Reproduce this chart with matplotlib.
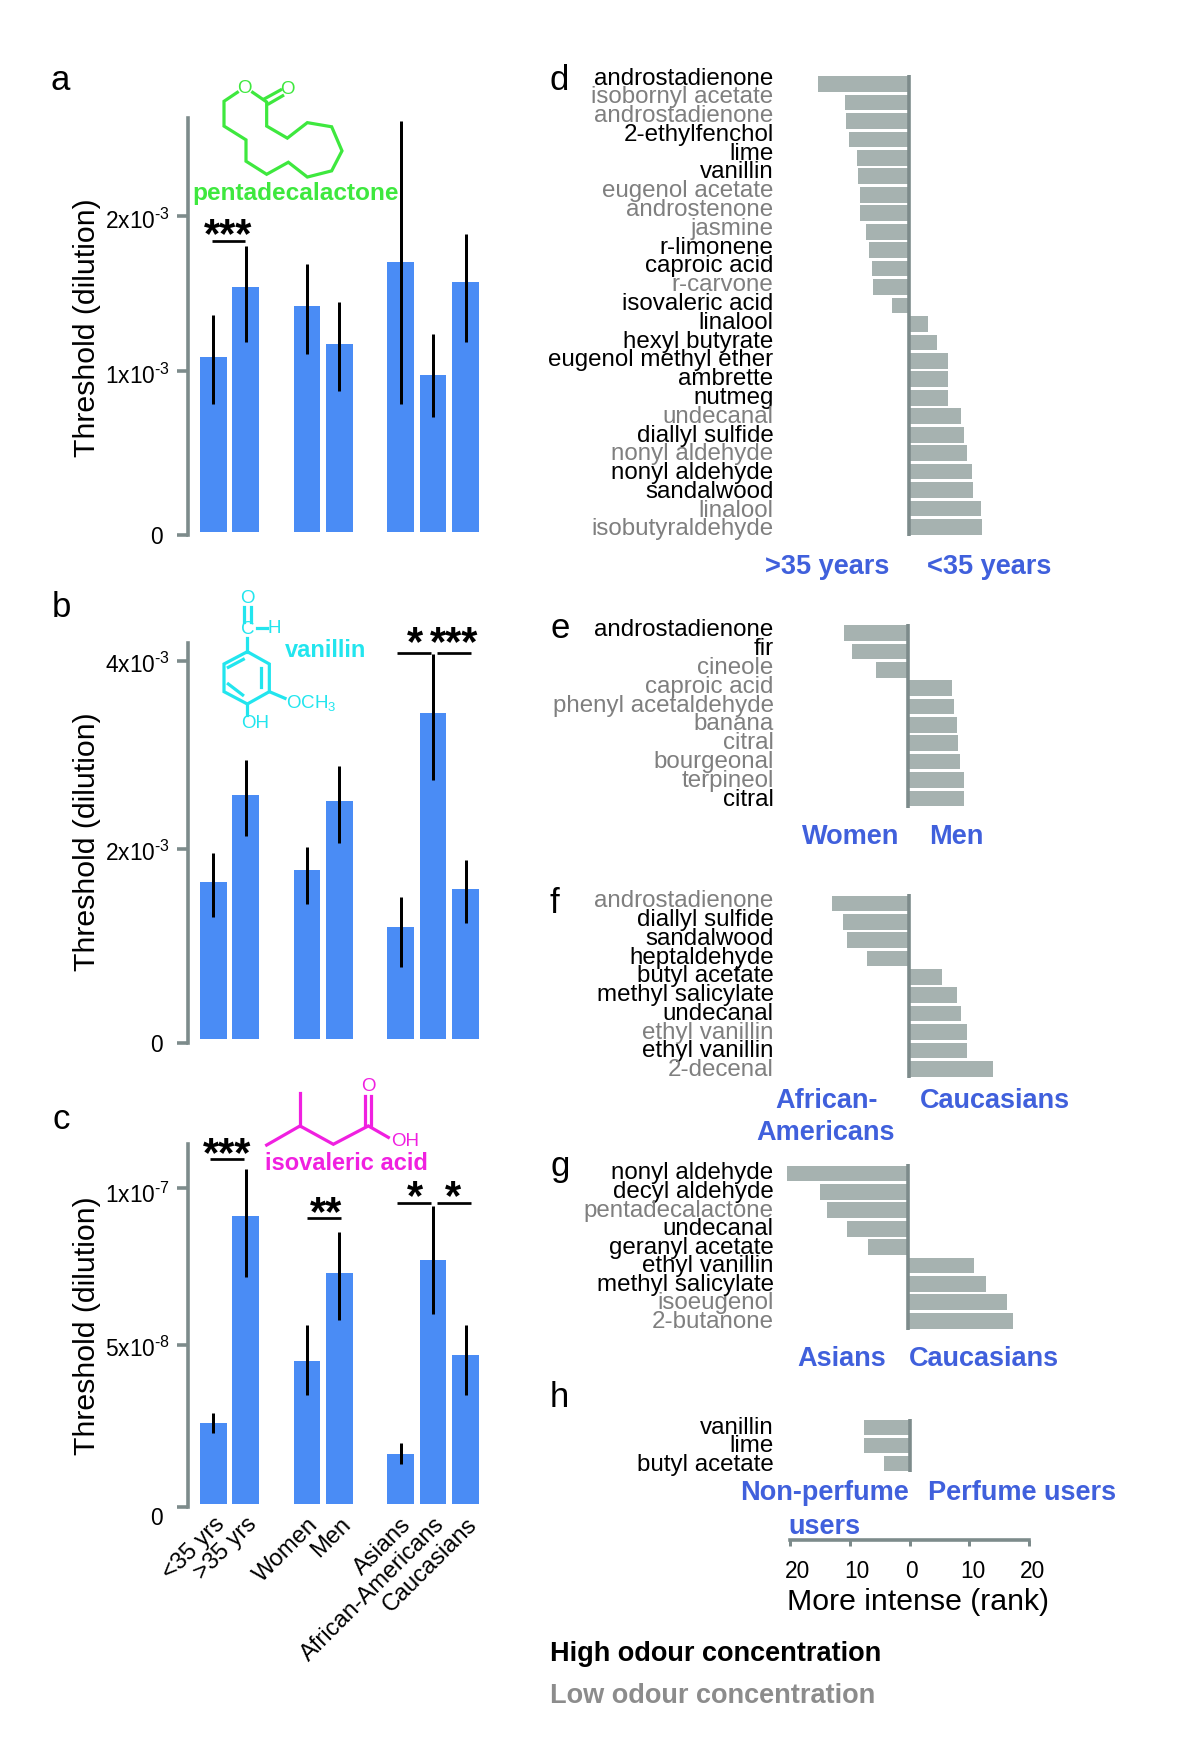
import matplotlib
matplotlib.use('Agg')
import matplotlib.pyplot as plt
from matplotlib.transforms import ScaledTranslation

plt.rcParams['font.family'] = ['Liberation Sans', 'DejaVu Sans']
plt.rcParams['mathtext.fontset'] = 'custom'
plt.rcParams['mathtext.rm'] = 'Liberation Sans'
plt.rcParams['mathtext.default'] = 'regular'

# ---- data ----
bar_labels = ['<35 yrs', '>35 yrs', 'Women', 'Men', 'Asians', 'African-Americans', 'Caucasians']

# thresholds, a and b in 1e-3 units, c in 1e-8 units
a_vals = [1.107, 1.547, 1.425, 1.187, 1.706, 0.991, 1.582]
a_hi = [1.373, 1.808, 1.691, 1.451, 2.597, 1.253, 1.885]
a_lo = [0.810, 1.203, 1.124, 0.889, 0.810, 0.728, 1.203]
b_vals = [1.654, 2.578, 1.785, 2.511, 1.185, 3.443, 1.584]
b_hi = [1.961, 2.949, 2.025, 2.885, 1.496, 4.071, 1.891]
b_lo = [1.284, 2.145, 1.422, 2.074, 0.755, 2.737, 1.220]
c_vals = [2.56, 9.13, 4.54, 7.33, 1.57, 7.73, 4.73]
c_hi = [2.88, 10.6, 5.67, 8.62, 1.91, 9.43, 5.67]
c_lo = [2.25, 7.2, 3.45, 5.81, 1.26, 6.01, 3.45]

d_names = ['androstadienone', 'isobornyl acetate', 'androstadienone', '2-ethylfenchol', 'lime', 'vanillin',
           'eugenol acetate', 'androstenone', 'jasmine', 'r-limonene', 'caproic acid', 'r-carvone',
           'isovaleric acid', 'linalool', 'hexyl butyrate', 'eugenol methyl ether', 'ambrette', 'nutmeg',
           'undecanal', 'diallyl sulfide', 'nonyl aldehyde', 'nonyl aldehyde', 'sandalwood', 'linalool',
           'isobutyraldehyde']
d_vals = [-15.1, -10.6, -10.4, -10.0, -8.6, -8.4, -8.1, -8.1, -7.1, -6.6, -6.1, -5.9, -2.8,
          3.3, 4.7, 6.6, 6.6, 6.6, 8.75, 9.3, 9.8, 10.6, 10.8, 12.1, 12.3]
d_high = [1, 0, 0, 1, 1, 1, 0, 0, 0, 1, 1, 0, 1, 1, 1, 1, 1, 1, 0, 1, 0, 1, 1, 0, 0]

e_names = ['androstadienone', 'fir', 'cineole', 'caproic acid', 'phenyl acetaldehyde', 'banana', 'citral',
           'bourgeonal', 'terpineol', 'citral']
e_vals = [-10.7, -9.3, -5.3, 7.4, 7.7, 8.2, 8.4, 8.7, 9.4, 9.4]
e_high = [1, 1, 0, 0, 0, 0, 0, 0, 0, 1]

f_names = ['androstadienone', 'diallyl sulfide', 'sandalwood', 'heptaldehyde', 'butyl acetate',
           'methyl salicylate', 'undecanal', 'ethyl vanillin', 'ethyl vanillin', '2-decenal']
f_vals = [-12.8, -11.05, -10.3, -7.05, 5.5, 8.0, 8.7, 9.7, 9.7, 14.0]
f_high = [0, 1, 1, 1, 1, 1, 1, 0, 1, 0]

g_names = ['nonyl aldehyde', 'decyl aldehyde', 'pentadecalactone', 'undecanal', 'geranyl acetate',
           'ethyl vanillin', 'methyl salicylate', 'isoeugenol', '2-butanone']
g_vals = [-20.3, -14.7, -13.6, -10.2, -6.65, 11.1, 13.1, 16.5, 17.5]
g_high = [1, 1, 0, 1, 1, 1, 1, 0, 0]

h_names = ['vanillin', 'lime', 'butyl acetate']
h_vals = [-7.7, -7.7, -4.3]
h_high = [1, 1, 1]

BLUE = '#4A8CF5'
GREY_BAR = '#A6B2B0'
AXIS = '#7D8B8B'
LOW = '#7f7f7f'
LABEL_BLUE = '#4060DC'
GREEN = '#3EE83E'
CYAN = '#22E5EE'
MAGENTA = '#F020E0'

W, H = 1200, 1753
px = 0.72  # one pixel in points at dpi 100

fig = plt.figure(figsize=(W / 100, H / 100), dpi=100)

# overlay in picture pixels, for text and the molecule drawings
over = fig.add_axes([0, 0, 1, 1], zorder=5)
over.set_xlim(0, W)
over.set_ylim(H, 0)
over.axis('off')


def add_ax(left, top, right, bottom):
    return fig.add_axes([left / W, 1 - bottom / H, (right - left) / W, (bottom - top) / H])


# x positions of the seven bars, three groups
bar_x = []
pos = 0
for i, n in enumerate([2, 2, 3]):
    for j in range(n):
        bar_x.append(pos)
        pos += 1
    pos += 0.88


def threshold_panel(top, zero_y, base_y, unit, vals, hi, lo, ticks, ticklabels, label_y, sig, star_off, tick_drop):
    # zero_y is where the 0 tick sits, base_y where the bars stand
    ax = add_ax(188, top, 480, zero_y)
    step = 32.5
    ax.set_xlim((188 - 213.3) / step, (480 - 213.3) / step)
    ax.set_ylim((base_y - zero_y) / unit, (base_y - top) / unit)
    ax.bar(bar_x, vals, width=0.82, color=BLUE, linewidth=0)
    ax.vlines(bar_x, lo, hi, color='k', lw=3 * px)
    ax.set_yticks(ticks)
    ax.set_yticklabels(ticklabels, fontsize=16.4)
    ax.tick_params(axis='y', length=11 * px, width=3.6 * px, color=AXIS, pad=7 * px)
    # tick labels sit a little under their ticks in the original
    for lab, drop in zip(ax.get_yticklabels(), tick_drop):
        lab.set_transform(lab.get_transform() + ScaledTranslation(0, -drop / 100, fig.dpi_scale_trans))
    ax.set_xticks([])
    for s in ['top', 'right', 'bottom']:
        ax.spines[s].set_visible(False)
    ax.spines['left'].set_color(AXIS)
    ax.spines['left'].set_linewidth(3.6 * px)
    ax.set_ylabel('Threshold (dilution)', fontsize=21.8, va='center')
    ax.yaxis.set_label_coords(87, label_y, transform=over.transData)
    for x0, x1, y, stars, sx in sig:
        ax.plot([x0, x1], [y, y], color='k', lw=2.7 * px, solid_capstyle='butt', clip_on=False)
        ax.annotate(stars, (sx, y), xytext=(0, star_off), textcoords='offset points', ha='center', va='bottom',
                    fontsize=30, fontweight='bold', annotation_clip=False)
    return ax


threshold_panel(118.5, 534.8, 531.7, 158.06, a_vals, a_hi, a_lo, [-0.0196, 1.015, 2.0],
                ['0 ', '1x10$^{\\text{-3}}$', '2x10$^{\\text{-3}}$'], 327.5,
                [(-0.05, 0.98, 1.839, '***', 0.47)], -11, [0, 3, 3])
threshold_panel(642.7, 1042.7, 1038.7, 94.5, b_vals, b_hi, b_lo, [-0.042, 2.01, 4.0],
                ['0 ', '2x10$^{\\text{-3}}$', '4x10$^{\\text{-3}}$'], 842,
                [(5.66, 6.69, 4.085, '*', 6.2), (6.89, 7.93, 4.085, '***', 7.4)], -8, [0, 2, 2])
ax_c = threshold_panel(1143.9, 1506.7, 1503.7, 31.53, c_vals, c_hi, c_lo, [-0.097, 5.036, 10.0],
                       ['0 ', '5x10$^{\\text{-8}}$', '1x10$^{\\text{-7}}$'], 1325.7,
                       [(-0.1, 0.95, 10.92, '***', 0.44), (2.89, 3.93, 9.05, '**', 3.46),
                        (5.66, 6.69, 9.54, '*', 6.2), (6.89, 7.93, 9.54, '*', 7.38)], -11, [9, 2, 4])
ax_c.set_xticks(bar_x)
ax_c.set_xticklabels(bar_labels, fontsize=17, rotation=45, ha='right', rotation_mode='anchor')
ax_c.tick_params(axis='x', length=0, pad=5)


def rank_panel(top, bottom, zero_x, names, vals, high, shift0, shift1):
    # shift0, shift1: how far the first and last name sit off their bars, in pixels
    unit = 5.98
    ax = add_ax(775, top, 1075, bottom)
    ax.set_xlim((775 - zero_x) / unit, (1075 - zero_x) / unit)
    ax.set_ylim(len(vals) - 0.5, -0.5)
    rows = list(range(len(vals)))
    ax.barh(rows, vals, height=0.85, color=GREY_BAR, linewidth=0)
    ax.axvline(0, color=AXIS, lw=3.6 * px, zorder=3)
    row_h = (bottom - top) / len(vals)
    ax.set_yticks([r + (shift0 + (shift1 - shift0) * r / (len(vals) - 1)) / row_h for r in rows])
    ax.set_yticklabels(names, fontsize=17.4)
    for lab, h in zip(ax.get_yticklabels(), high):
        lab.set_color('k' if h else LOW)
    ax.tick_params(axis='y', length=0, pad=1)
    ax.set_xticks([])
    for s in ax.spines.values():
        s.set_visible(False)
    return ax


rank_panel(74.8, 536.2, 908.5, d_names, d_vals, d_high, -8, 0)
rank_panel(623.9, 807.5, 907.9, e_names, e_vals, e_high, -5.5, -1)
rank_panel(894.3, 1077.9, 908.9, f_names, f_vals, f_high, -4.5, -1)
rank_panel(1164.3, 1329.9, 908.1, g_names, g_vals, g_high, -2.5, -1.5)
ax_h = rank_panel(1418.7, 1472.2, 909.6, h_names, h_vals, h_high, -2, -1)

# rank scale hangs under panel h
ax_h.spines['bottom'].set_visible(True)
ax_h.spines['bottom'].set_position(('outward', 67.3 * px))
ax_h.spines['bottom'].set_bounds(-20, 20)
ax_h.spines['bottom'].set_color(AXIS)
ax_h.spines['bottom'].set_linewidth(3.6 * px)
ax_h.set_xticks([-20, -10, 0, 10, 20])
ax_h.set_xticklabels(['20', '10', '0', '10', '20'], fontsize=16.4)
ax_h.tick_params(axis='x', length=6 * px, width=3 * px, color=AXIS, pad=15 * px)
for lab, off in zip(ax_h.get_xticklabels(), [7, 7, 2, 3, 3]):
    lab.set_transform(lab.get_transform() + ScaledTranslation(off / 100, 0, fig.dpi_scale_trans))
ax_h.set_xlabel('More intense (rank)', fontsize=21.8, va='center')
ax_h.xaxis.set_label_coords(918, 1602, transform=over.transData)

# panel letters
for letter, x, y in [('a', 51, 90), ('b', 52, 617), ('c', 52, 1129), ('d', 549.6, 89.6),
                     ('e', 550, 637.5), ('f', 550, 912.5), ('g', 550, 1176), ('h', 550, 1407)]:
    over.text(x, y, letter, fontsize=25, ha='left', va='baseline')

# blue group labels
for txt, x, y in [('>35 years', 827, 567.5), ('<35 years', 989.5, 567.5), ('Women', 850.2, 837),
                  ('Men', 956.4, 837), ('African-', 827, 1101), ('Americans', 825.7, 1133.5),
                  ('Caucasians', 995, 1101), ('Asians', 841.5, 1359.4), ('Caucasians', 983.5, 1359.4),
                  ('Non-perfume', 824, 1493.4), ('users', 824, 1526.9), ('Perfume users', 1022.3, 1493.4)]:
    over.text(x, y, txt, fontsize=19.5, fontweight='bold', color=LABEL_BLUE, ha='center', va='center')

# legend
over.text(550.3, 1654.2, 'High odour concentration', fontsize=19.5, fontweight='bold', color='k', va='center')
over.text(550.3, 1695.6, 'Low odour concentration', fontsize=19.5, fontweight='bold', color='#8c8c8c', va='center')


def line(points, color, ox, oy, sy, lw=3.2):
    over.plot([ox + p[0] / 3.0 for p in points], [oy + p[1] / sy for p in points],
              color=color, lw=lw * px, solid_joinstyle='miter')


def atom(txt, x, y, color, ox, oy, sy, ha='center', size=13.5):
    over.text(ox + x / 3.0, oy + y / sy, txt, color=color, fontsize=size, ha=ha, va='center')


# pentadecalactone
ox, oy, sy = 40, 40, 2.904
line([(592, 152), (552, 178), (552, 250), (618, 290), (618, 352), (680, 390), (745, 355), (802, 398),
      (875, 380), (906, 322), (875, 252), (802, 240), (742, 285), (680, 250), (680, 180), (638, 152)], GREEN, ox, oy, sy)
line([(675, 170), (722, 145)], GREEN, ox, oy, sy)
line([(687, 185), (728, 162)], GREEN, ox, oy, sy)
atom('O', 612, 140, GREEN, ox, oy, sy)
atom('O', 742, 143, GREEN, ox, oy, sy)
over.text(295.7, 193, 'pentadecalactone', color=GREEN, fontsize=17.6, fontweight='bold', ha='center', va='center')

# vanillin
ox, oy, sy = 40, 580, 3.0
line([(622, 215), (688, 252), (688, 335), (622, 372), (552, 335), (552, 252), (622, 215)], CYAN, ox, oy, sy)
line([(565, 262), (610, 238)], CYAN, ox, oy, sy)
line([(662, 265), (662, 320)], CYAN, ox, oy, sy)
line([(565, 312), (608, 345)], CYAN, ox, oy, sy)
line([(622, 175), (622, 215)], CYAN, ox, oy, sy)
line([(612, 82), (612, 125)], CYAN, ox, oy, sy)
line([(632, 82), (632, 125)], CYAN, ox, oy, sy)
line([(650, 143), (682, 143)], CYAN, ox, oy, sy)
line([(688, 335), (735, 355)], CYAN, ox, oy, sy)
line([(622, 372), (622, 405)], CYAN, ox, oy, sy)
atom('O', 622, 55, CYAN, ox, oy, sy)
atom('C', 622, 147, CYAN, ox, oy, sy)
atom('H', 703, 145, CYAN, ox, oy, sy)
atom('OCH$_3$', 737, 370, CYAN, ox, oy, sy, ha='left')
atom('OH', 603, 430, CYAN, ox, oy, sy, ha='left')
over.text(325.7, 650.7, 'vanillin', color=CYAN, fontsize=17, fontweight='bold', ha='center', va='center')

# isovaleric acid
ox, oy, sy = 40, 1080, 2.613
line([(680, 170), (780, 120), (880, 168), (985, 120), (1045, 150)], MAGENTA, ox, oy, sy)
line([(780, 120), (780, 35)], MAGENTA, ox, oy, sy)
line([(976, 120), (976, 42)], MAGENTA, ox, oy, sy)
line([(994, 120), (994, 42)], MAGENTA, ox, oy, sy)
atom('O', 985, 18, MAGENTA, ox, oy, sy)
atom('OH', 1052, 162, MAGENTA, ox, oy, sy, ha='left')
over.text(346.7, 1164, 'isovaleric acid', color=MAGENTA, fontsize=17, fontweight='bold', ha='center', va='center')

fig.savefig('out.png', dpi=100, facecolor='white')
